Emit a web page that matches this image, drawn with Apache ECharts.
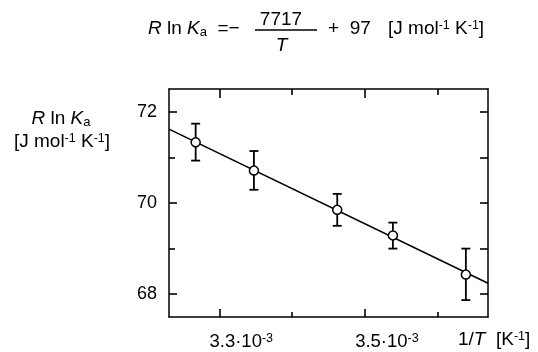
<!DOCTYPE html>
<html>
<head>
<meta charset="utf-8">
<script src="https://cdn.jsdelivr.net/npm/echarts@6/dist/echarts.min.js"></script>
<style>html,body{margin:0;padding:0;background:#fff;}#c{width:538px;height:352px;}</style>
</head>
<body>
<div id="c"></div>
<script>
// data: x in units of 10^-3 K^-1
const invT = [3.2676, 3.3476, 3.4620, 3.5384, 3.6386];
const RlnK = [71.33, 70.71, 69.85, 69.29, 68.43];
const errLow = [70.93, 70.29, 69.50, 69.00, 67.87];
const errHigh = [71.74, 71.14, 70.20, 69.57, 69.00];
const fitX = [3.231, 3.669];
const fitY = [71.62, 68.24];
const xMajorTicks = [3.3, 3.5];
const xMinorTicks = [3.4, 3.6];
const xTickLabels = [3.3, 3.5];
const yMajorTicks = [68, 70, 72];
const yMinorTicks = [69, 71];
const yRightTicks = [68, 69, 70, 71, 72];
const yTickLabels = [68, 70, 72];

const XMIN = 3.231, XMAX = 3.669, YMIN = 67.5, YMAX = 72.5;
const FONT = '"Liberation Sans", Arial, sans-serif';
const black = '#000';

function xAx(pos, ticks, len, showLine, labels) {
  return {
    type: 'value', position: pos, min: XMIN, max: XMAX, scale: true,
    axisLine: { show: showLine, lineStyle: { color: black, width: 1.5 } },
    axisTick: { show: true, inside: true, length: len, customValues: ticks, lineStyle: { color: black, width: 1.6 } },
    axisLabel: labels ? {
      show: true, customValues: labels, margin: 15, color: black, fontFamily: FONT, fontSize: 18.5,
      formatter: v => '{sp|}' + v.toFixed(1) + '·10{sup|-3}',
      rich: { sp: { width: 44 }, sup: { fontSize: 12.5, verticalAlign: 'top', lineHeight: 5, fontFamily: FONT, color: black } }
    } : { show: false },
    splitLine: { show: false }
  };
}
function yAx(pos, ticks, len, showLine, labels) {
  return {
    type: 'value', position: pos, min: YMIN, max: YMAX,
    axisLine: { show: showLine, lineStyle: { color: black, width: 1.5 } },
    axisTick: { show: true, inside: true, length: len, customValues: ticks, lineStyle: { color: black, width: 1.6 } },
    axisLabel: labels ? { show: true, customValues: labels, margin: 12, color: black, fontFamily: FONT, fontSize: 18 } : { show: false },
    splitLine: { show: false }
  };
}

const chart = echarts.init(document.getElementById('c'), null, { renderer: 'canvas' });
const txt = (x, y, text, extra) => ({
  type: 'text', x: x, y: y, silent: true,
  style: Object.assign({ text: text, fill: black, font: '19px ' + FONT, verticalAlign: 'middle', align: 'left',
    rich: {
      i: { fontStyle: 'italic', fontSize: 19, fontFamily: FONT, color: black },
      sub: { fontSize: 13, fontFamily: FONT, color: black, verticalAlign: 'bottom', lineHeight: 4 },
      sup: { fontSize: 12.5, fontFamily: FONT, color: black, verticalAlign: 'top', lineHeight: 5 }
    }
  }, extra || {})
});

chart.setOption({
  backgroundColor: '#fff',
  animation: false,
  grid: { left: 169, right: 50, top: 89, bottom: 35, containLabel: false },
  xAxis: [
    xAx('bottom', xMajorTicks, 8, true, xTickLabels),
    xAx('bottom', xMinorTicks, 5, false, null),
    xAx('top', xMajorTicks, 9, true, null),
    xAx('top', xMinorTicks, 6, false, null)
  ],
  yAxis: [
    yAx('left', yMajorTicks, 8, true, yTickLabels),
    yAx('left', yMinorTicks, 6, false, null),
    yAx('right', yRightTicks, 8, true, null)
  ],
  series: [
    {
      type: 'line', data: fitX.map((x, i) => [x, fitY[i]]), symbol: 'none',
      lineStyle: { color: black, width: 1.6 }, z: 2, silent: true
    },
    {
      type: 'custom', z: 3, silent: true,
      data: invT.map((x, i) => [x, errLow[i], errHigh[i]]),
      renderItem: function (params, api) {
        const lo = api.coord([api.value(0), api.value(1)]);
        const hi = api.coord([api.value(0), api.value(2)]);
        const w = 4.5;
        const st = { stroke: black, lineWidth: 1.8 };
        return {
          type: 'group', children: [
            { type: 'line', shape: { x1: lo[0], y1: lo[1], x2: hi[0], y2: hi[1] }, style: st },
            { type: 'line', shape: { x1: lo[0] - w, y1: lo[1], x2: lo[0] + w, y2: lo[1] }, style: st },
            { type: 'line', shape: { x1: hi[0] - w, y1: hi[1], x2: hi[0] + w, y2: hi[1] }, style: st }
          ]
        };
      }
    },
    {
      type: 'scatter', data: invT.map((x, i) => [x, RlnK[i]]), symbol: 'circle', symbolSize: 9,
      itemStyle: { color: '#fff', borderColor: black, borderWidth: 1.5, opacity: 1 }, z: 4, silent: true
    }
  ],
  graphic: [
    // title equation
    txt(148, 29, '{i|R} ln {i|K}{sub|a}  =−'),
    txt(281, 20, '7717', { align: 'center' }),
    { type: 'line', shape: { x1: 255, y1: 30, x2: 317, y2: 30 }, style: { stroke: black, lineWidth: 1.6 } },
    txt(281.5, 46, '{i|T}', { align: 'center' }),
    txt(328, 29, '+  97'),
    txt(388, 29, '[J mol{sup|-1} K{sup|-1}]'),
    // y-axis name
    txt(61, 119, '{i|R} ln {i|K}{sub|a}', { align: 'center' }),
    txt(62, 142, '[J mol{sup|-1} K{sup|-1}]', { align: 'center' }),
    // x-axis name
    txt(458, 340, '1/{i|T}  [K{sup|-1}]')
  ]
});
</script>
</body>
</html>
